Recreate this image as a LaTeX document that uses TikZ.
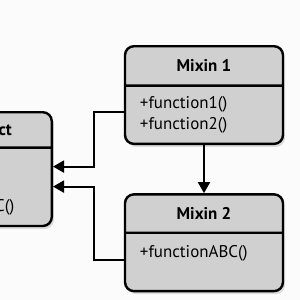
\documentclass[tikz,border=0pt]{standalone}
\usepackage{fontspec}
\setmainfont{PT Sans}
\usepackage{xcolor}
\definecolor{boxgray}{RGB}{208,208,208}
\definecolor{pagebg}{RGB}{251,251,251}
\usetikzlibrary{arrows.meta, positioning, shapes.multipart, shadows}

\begin{document}
\begin{tikzpicture}[x=1bp, y=-1bp,
    classbox/.style={rectangle split, rectangle split parts=2, draw,
      line width=2.4bp, rounded corners=9bp, fill=boxgray,
      minimum width=158bp, inner xsep=15bp, inner ysep=0pt, align=left,
      rectangle split part align={center,left},
      font=\fontsize{17}{21}\selectfont,
      drop shadow={opacity=0.25, shadow xshift=2bp, shadow yshift=-3bp}},
    parttext/.style={font=\fontsize{17}{21}\selectfont, inner sep=0pt},
    inh/.style={line width=2bp, -{Triangle[length=11bp,width=12bp]}}
]
\useasboundingbox (0,0) rectangle (300,300);
\fill[pagebg] (0,0) rectangle (300,300);
\clip (0,0) rectangle (300,300);

%% the two mixins
\node[classbox, anchor=north] (mixA) at (204,45)
  {\bfseries\rule[-12.5bp]{0pt}{37bp}Mixin 1
   \nodepart{two}\rule{0pt}{22bp}+function1()\\+function2()\rule[-13bp]{0pt}{13bp}};
\node[classbox, below=48bp of mixA] (mixB)
  {\bfseries\rule[-12.5bp]{0pt}{36bp}Mixin 2
   \nodepart{two}\rule{0pt}{24bp}+functionABC()\rule[-32bp]{0pt}{32bp}};

%% the class on the left, cut by the edge
\node[classbox, anchor=north east] (obj) at (53,111)
  {\rule[-9bp]{0pt}{33bp}\nodepart{two}\rule[-9bp]{0pt}{76bp}};
\node[parttext, font=\fontsize{17}{21}\selectfont\bfseries, anchor=base east]
  (objname) at ([xshift=-41bp, yshift=-24bp]obj.north east) {ct};
\node[parttext, anchor=base east]
  (objmeth) at ([xshift=-38.5bp, yshift=-100bp]obj.north east) {C()};

%% connectors
\draw[inh] (mixA.south) -- (mixB.north);
\draw[inh] ([yshift=-26bp]mixA.text split west) -- ++(-30,0)
  |- ([yshift=-19bp]obj.text split east);
\draw[inh] ([yshift=-27bp]mixB.text split west) -- ++(-30,0)
  |- ([yshift=-39bp]obj.text split east);
\end{tikzpicture}
\end{document}
